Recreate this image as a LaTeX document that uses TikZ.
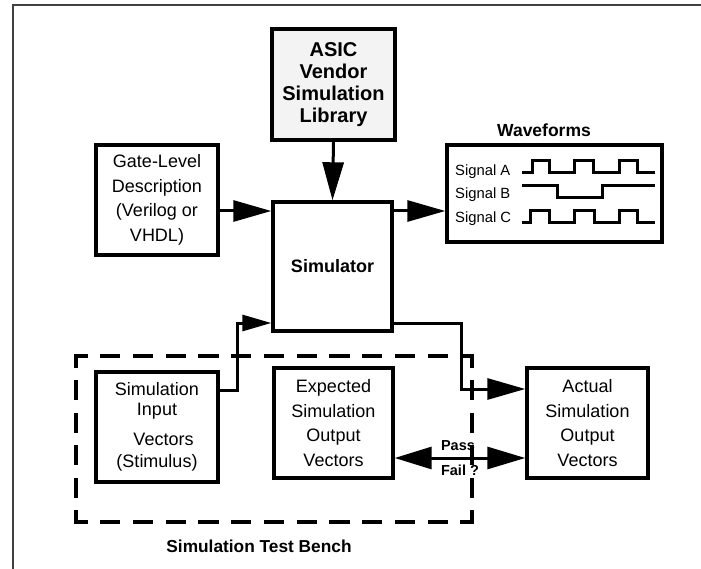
\documentclass[tikz,border=0pt]{standalone}
\usepackage{fontspec}
\setmainfont{Liberation Sans}
\usetikzlibrary{arrows.meta}
\definecolor{libfill}{HTML}{F3F3F3}
\begin{document}
\begin{tikzpicture}[x=1pt,y=-1pt,
  box/.style={draw,line width=3.4pt,inner sep=0pt,align=center,
    font=\fontsize{18}{24.5}\selectfont},
  conn/.style={line width=3pt,-{Triangle[length=38pt,width=21pt]}},
  connsmall/.style={line width=3pt,-{Triangle[length=29pt,width=16pt]}},
  both/.style={line width=3pt,{Triangle[length=37pt,width=22pt]}-{Triangle[length=38pt,width=22pt]}},
  wave/.style={line width=3pt,line join=miter},
  sig/.style={anchor=base west,inner sep=0pt,font=\fontsize{14.8}{17}\selectfont},
  bench/.style={line width=3.2pt,line cap=rect},
  lbl/.style={inner sep=0pt,font=\bfseries\fontsize{14.5}{16}\selectfont}]

\useasboundingbox (0,0) rectangle (701,569);

% page frame (top and left edges only)
\draw[line width=1.5pt,black!75] (13,569) -- (13,5) -- (701,5);

% blocks
\node[box,fill=libfill,minimum width=123pt,minimum height=111pt,
  font=\bfseries\fontsize{20}{22}\selectfont] (asic) at (333.5,84.5)
  {ASIC\\Vendor\\Simulation\\Library};
\node[box,minimum width=122pt,minimum height=110pt] (gate) at (157,200)
  {Gate-Level\\Description\\(Verilog or\\VHDL)};
\node[box,minimum width=119pt,minimum height=129pt,
  font=\bfseries\fontsize{18}{22}\selectfont] (sim) at (332.5,266.5) {Simulator};
\node[box,minimum width=215pt,minimum height=97pt] (wave) at (554.5,193.5) {};
\node[box,minimum width=122pt,minimum height=110pt] (stim) at (157,427)
  {Simulation\\[-4.5pt]Input\\[5.5pt]\hspace*{13pt}Vectors\\[-2.5pt](Stimulus)};
\node[box,minimum width=119pt,minimum height=110pt] (expct) at (333.5,423)
  {Expected\\Simulation\\Output\\Vectors};
\node[box,minimum width=121pt,minimum height=110pt] (actual) at (587.5,423)
  {Actual\\Simulation\\Output\\Vectors};

% titles
\node[inner sep=0pt,font=\bfseries\fontsize{17.5}{20}\selectfont] (wtitle) at (544,130) {Waveforms};
\node[inner sep=0pt,font=\bfseries\fontsize{17.3}{20}\selectfont] (btitle) at (259,546) {Simulation Test Bench};

% waveform traces
\node[sig] (siga) at (455,176) {Signal A};
\node[sig] (sigb) at (455,199) {Signal B};
\node[sig] (sigc) at (455,223) {Signal C};
\draw[wave] (522,173) -- (532,173) -- (532,161) -- (549,161) -- (549,173) -- (574,173)
  -- (574,161) -- (593,161) -- (593,173) -- (619,173) -- (619,161) -- (637,161)
  -- (637,173) -- (655,173);
\draw[wave] (522,186) -- (557,186) -- (557,198) -- (602,198) -- (602,186) -- (655,186);
\draw[wave] (522,223) -- (530,223) -- (530,211) -- (549,211) -- (549,223) -- (574,223)
  -- (574,211) -- (594,211) -- (594,223) -- (619,223) -- (619,211) -- (637,211)
  -- (637,223) -- (655,223);

% test bench outline
\draw[bench,dash pattern=on 17pt off 15.75pt,dash phase=7pt] (76,356) -- (472,356);
\draw[bench,dash pattern=on 17pt off 15.75pt,dash phase=7pt] (76,522) -- (472,522);
\draw[bench,dash pattern=on 17pt off 15.6pt,dash phase=7pt] (76,356) -- (76,522);
\draw[bench,dash pattern=on 17pt off 15.6pt,dash phase=7pt] (472,356) -- (472,522);

% connectors
\draw[conn] (asic.south) -- (sim.north);
\draw[conn] (gate.east |- 0,211) -- (sim.west |- 0,211);
\draw[conn] (sim.east |- 0,211) -- (wave.west |- 0,211);
\coordinate (up) at (237,390);
\coordinate (dn) at (461,323);
\draw[connsmall] (stim.east |- up) -- (up) -- (up |- 0,323) -- (sim.west |- 0,323);
\draw[conn] (sim.east |- dn) -- (dn) -- (dn |- 0,389) -- (actual.west |- 0,389);
\draw[both] (expct.east |- 0,458) -- (actual.west |- 0,458);
\node[lbl] (pass) at (458,446) {Pass};
\node[lbl] (fail) at (460,470) {Fail ?};
\end{tikzpicture}
\end{document}
